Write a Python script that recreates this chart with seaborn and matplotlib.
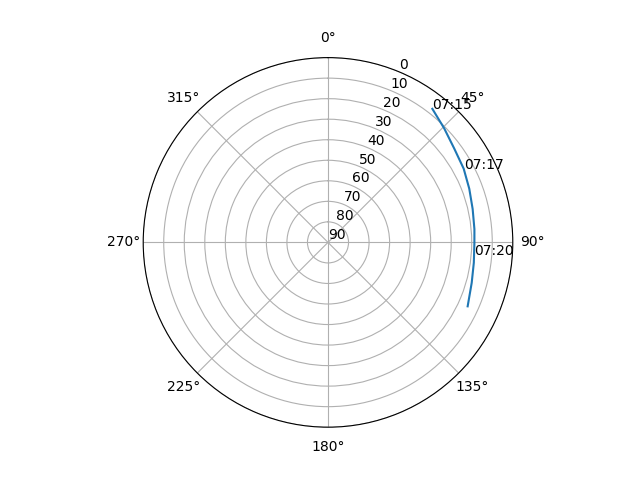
import numpy as np
import pandas as pd
import matplotlib
matplotlib.use("Agg")
import matplotlib.pyplot as plt
import seaborn as sns

# Satellite pass track
track_azimuth_deg = [38.0, 45.5, 53.4, 61.5, 69.2, 77.0, 84.8, 90.1, 97.9, 105.7, 114.6]
track_elevation_deg = [7.45, 10.7, 13.4, 14.8, 16.4, 17.7, 18.4, 18.7, 18.3, 17.3, 15.2]

# Time labels along the track
label_times = ["07:15", "07:17", "07:20"]
label_azimuth_deg = [38.0, 61.5, 95.0]
label_elevation_deg = [7.45, 14.8, 18.6]

r_ticks = [0, 10, 20, 30, 40, 50, 60, 70, 80, 90]

track = pd.DataFrame({"theta": np.deg2rad(track_azimuth_deg),
                      "el": track_elevation_deg})

fig = plt.figure(figsize=(6.4, 4.8), dpi=100)
ax = fig.add_subplot(111, projection="polar")
ax.set_theta_zero_location("N")
ax.set_theta_direction(-1)

sns.lineplot(data=track, x="theta", y="el", ax=ax, sort=False, color="#1f77b4")

for t, az, el in zip(label_times, label_azimuth_deg, label_elevation_deg):
    ax.text(np.deg2rad(az), el, t)

ax.set_rlim(90, 0)
ax.set_rticks(r_ticks)
ax.set_xlabel("")
ax.set_ylabel("")

fig.savefig("out.png", dpi=100)
